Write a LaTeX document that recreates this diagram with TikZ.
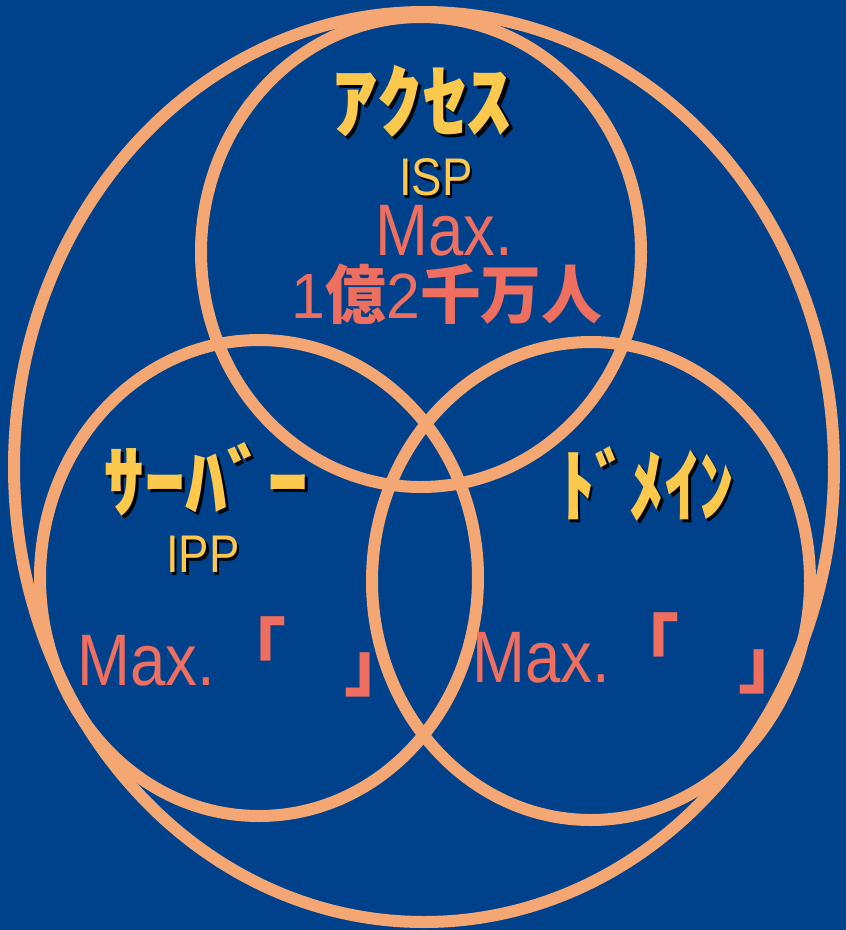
\documentclass[tikz,border=0pt]{standalone}
\usepackage{fontspec}
\setmainfont{Liberation Sans}
\newfontfamily\jp{Noto Sans CJK JP}
\usetikzlibrary{positioning,shapes.geometric}
\definecolor{slideblue}{RGB}{0,65,140}
\definecolor{ringorange}{RGB}{245,167,115}
\definecolor{kanayellow}{RGB}{252,201,76}
\definecolor{maxred}{RGB}{238,110,95}
\newcommand{\shadowed}[1]{\makebox[0pt][l]{\hspace{3pt}\raisebox{-3pt}{\color{black}#1}}#1}
\tikzset{
  ring/.style     = {draw=ringorange, ellipse, line width=12pt, inner sep=0pt},
  kana/.style     = {text=kanayellow, font=\jp\bfseries\fontsize{80}{90}\selectfont,
                     inner sep=0pt, transform shape},
  isp/.style      = {text=kanayellow, font=\fontsize{53}{60}\selectfont,
                     inner sep=0pt, xscale=0.86, transform shape, anchor=base},
  maxtext/.style  = {text=maxred, font=\fontsize{73}{80}\selectfont,
                     inner sep=0pt, xscale=0.87, transform shape, anchor=base},
  numtext/.style  = {text=maxred, font=\fontsize{64}{70}\selectfont,
                     inner sep=0pt, xscale=0.95, transform shape, anchor=base},
  bracket/.style  = {text=maxred, font=\jp\bfseries\fontsize{70}{76}\selectfont,
                     inner sep=0pt}
}

\begin{document}
\begin{tikzpicture}[x=1pt, y=-1pt]
  \fill[slideblue] (0,0) rectangle (846,930);

  \node[ring, minimum width=820pt, minimum height=910pt] (whole)  at (424,467) {};
  \node[ring, minimum width=440pt, minimum height=470pt] (access) at (421,252) {};
  \node[ring, minimum width=438pt, minimum height=476pt] (server) at (259,578) {};
  \node[ring, minimum width=438pt, minimum height=478pt] (domain) at (591,581) {};

  % top circle
  \node[kana, xscale=1.12] (access_t) at (422,103) {\shadowed{ｱｸｾｽ}};
  \node[isp]     (isp_t)      at (436,195) {\shadowed{ISP}};
  \node[maxtext] (access_max) at (444,255) {Max.};
  \node[numtext] (access_num) at (447,318) {1{\jp\bfseries 億}2{\jp\bfseries 千万人}};

  % left circle
  \node[kana, xscale=1.03] (server_t) at (206,481) {\shadowed{ｻｰﾊﾞｰ}};
  \node[isp]     (ipp_t)      at (203,572) {\shadowed{IPP}};
  \node[maxtext] (server_max) at (146,685) {Max.};
  \node[bracket] (server_open)  at (251,647) {「};
  \node[bracket] (server_close) at (379,675) {」};

  % right circle
  \node[kana, xscale=0.87] (domain_t) at (647,485) {\shadowed{ﾄﾞﾒｲﾝ}};
  \node[maxtext] (domain_max) at (541,682) {Max.};
  \node[bracket] (domain_open)  at (644,643) {「};
  \node[bracket] (domain_close) at (773,672) {」};
\end{tikzpicture}
\end{document}
